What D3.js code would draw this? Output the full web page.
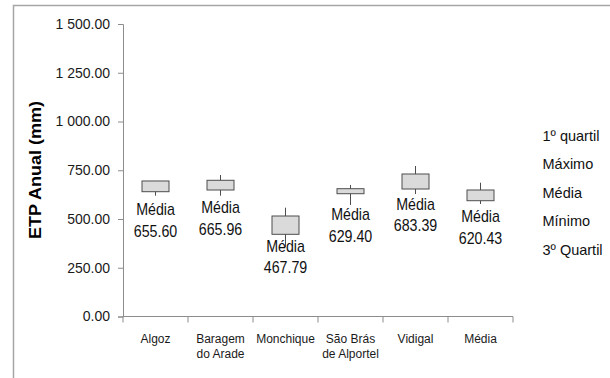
<!DOCTYPE html>
<html>
<head>
<meta charset="utf-8">
<script src="https://cdn.jsdelivr.net/npm/d3@7"></script>
<style>
  html, body { margin: 0; padding: 0; background: #fff; }
  svg { display: block; font-family: "Liberation Sans", Arial, sans-serif; }
</style>
</head>
<body>
<svg id="chart" width="610" height="378"></svg>
<script>
// Estações
const categories = ["Algoz", "Baragem do Arade", "Monchique", "São Brás de Alportel", "Vidigal", "Média"];
// Séries (mm)
const minimo   = [619.5, 619.5, 356.0, 571.8, 628.2, 576.9];
const quartil1 = [640.0, 648.7, 421.5, 629.7, 653.8, 593.8];
const quartil3 = [695.0, 698.5, 515.4, 655.4, 730.8, 648.7];
const maximo   = [695.0, 725.6, 558.0, 674.4, 771.8, 686.0];
const media    = [655.60, 665.96, 467.79, 629.40, 683.39, 620.43];
// Eixo Y
const yTicks = [0, 250, 500, 750, 1000, 1250, 1500];
// Legenda
const legendItems = ["1º quartil", "Máximo", "Média", "Mínimo", "3º Quartil"];

const svg = d3.select("#chart");

// moldura
svg.append("rect")
  .attr("x", 13.5).attr("y", 5.5)
  .attr("width", 700).attr("height", 500)
  .attr("fill", "none").attr("stroke", "#a6a6a6").attr("stroke-width", 1.5);

const x = d3.scaleBand().domain(categories).range([123, 513]);
const y = d3.scaleLinear().domain([0, 1500]).range([316.5, 24]);

const locale = d3.formatLocale({ decimal: ".", thousands: " ", grouping: [3], currency: ["", ""] });
const fmt = locale.format(",.2f");

// eixo Y
const yAxis = svg.append("g")
  .attr("transform", "translate(123,0)")
  .call(d3.axisLeft(y).tickValues(yTicks).tickFormat(fmt).tickSize(5).tickPadding(8));
yAxis.select(".domain").attr("stroke", "#8c8c8c");
yAxis.selectAll(".tick line").attr("stroke", "#8c8c8c");
yAxis.selectAll(".tick text")
  .attr("font-size", 14).attr("fill", "#1a1a1a")
  .attr("font-family", "Liberation Sans, Arial, sans-serif");

// eixo X
const xAxisG = svg.append("g").attr("transform", `translate(0,${y(0)})`);
xAxisG.append("line")
  .attr("x1", 123).attr("x2", 513).attr("y1", 0).attr("y2", 0)
  .attr("stroke", "#8c8c8c");
const bounds = categories.map(c => x(c)).concat([x(categories[categories.length - 1]) + x.bandwidth()]);
xAxisG.selectAll("line.tk").data(bounds).join("line")
  .attr("class", "tk")
  .attr("x1", d => d).attr("x2", d => d)
  .attr("y1", 0).attr("y2", 6)
  .attr("stroke", "#8c8c8c");

// rótulos das categorias (quebra em duas linhas)
const catLines = {
  "Baragem do Arade": ["Baragem", "do Arade"],
  "São Brás de Alportel": ["São Brás", "de Alportel"]
};
categories.forEach(c => {
  const lines = catLines[c] || [c];
  const t = svg.append("text")
    .attr("x", x(c) + x.bandwidth() / 2)
    .attr("y", 343)
    .attr("text-anchor", "middle")
    .attr("font-size", 12)
    .attr("fill", "#1a1a1a");
  lines.forEach((l, i) => {
    t.append("tspan")
      .attr("x", x(c) + x.bandwidth() / 2)
      .attr("dy", i === 0 ? 0 : 15)
      .text(l);
  });
});

// título do eixo Y
svg.append("text")
  .attr("transform", "translate(41,170) rotate(-90)")
  .attr("text-anchor", "middle")
  .attr("font-size", 16)
  .attr("font-weight", "bold")
  .attr("textLength", 138)
  .attr("lengthAdjust", "spacingAndGlyphs")
  .attr("fill", "#000")
  .text("ETP Anual (mm)");

// bigodes e caixas
const boxW = 27;
const g = svg.append("g");
categories.forEach((c, i) => {
  const cx = x(c) + x.bandwidth() / 2;
  g.append("line")
    .attr("x1", cx).attr("x2", cx)
    .attr("y1", y(maximo[i])).attr("y2", y(minimo[i]))
    .attr("stroke", "#4d4d4d").attr("stroke-width", 1);
  const top = Math.max(quartil1[i], quartil3[i]);
  const bot = Math.min(quartil1[i], quartil3[i]);
  g.append("rect")
    .attr("x", cx - boxW / 2)
    .attr("y", y(top))
    .attr("width", boxW)
    .attr("height", y(bot) - y(top))
    .attr("fill", "#dadada")
    .attr("stroke", "#4d4d4d").attr("stroke-width", 1);
});

// rótulos da média
categories.forEach((c, i) => {
  const cx = x(c) + x.bandwidth() / 2;
  const my = y(media[i]);
  const lab = svg.append("g")
    .attr("transform", `translate(${cx},${my}) scale(0.89,1)`);
  lab.append("text")
    .attr("y", 26.5)
    .attr("text-anchor", "middle")
    .attr("font-size", 16)
    .attr("fill", "#111")
    .text("Média");
  lab.append("text")
    .attr("y", 48)
    .attr("text-anchor", "middle")
    .attr("font-size", 16)
    .attr("fill", "#111")
    .text(media[i].toFixed(2));
});

// legenda
svg.append("g").selectAll("text").data(legendItems).join("text")
  .attr("x", 542.5)
  .attr("y", (d, i) => 140.5 + i * 28.6)
  .attr("font-size", 14.5)
  .attr("fill", "#111")
  .text(d => d);
</script>
</body>
</html>
